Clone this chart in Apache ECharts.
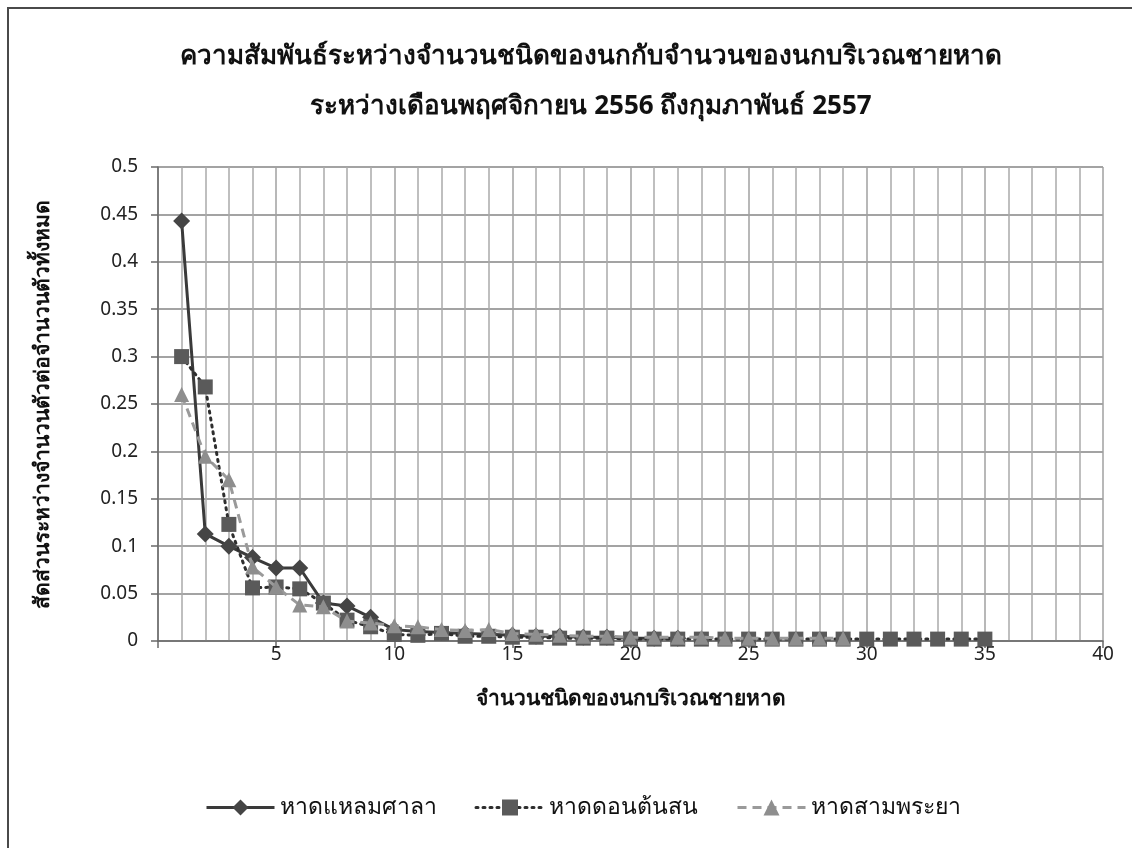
<!DOCTYPE html>
<html>
<head>
<meta charset="utf-8">
<script src="https://cdn.jsdelivr.net/npm/echarts@6/dist/echarts.min.js"></script>
<style>
  html, body { margin: 0; padding: 0; background: #fff; }
  #chart { width: 1132px; height: 848px; }
</style>
</head>
<body>
<div id="chart"></div>
<script>
// Proportion of individuals per species rank at three beaches
const titleLines = [
  'ความสัมพันธ์ระหว่างจำนวนชนิดของนกกับจำนวนของนกบริเวณชายหาด',
  'ระหว่างเดือนพฤศจิกายน 2556 ถึงกุมภาพันธ์ 2557'
];
const xAxisName = 'จำนวนชนิดของนกบริเวณชายหาด';
const yAxisName = 'สัดส่วนระหว่างจำนวนตัวต่อจำนวนตัวทั้งหมด';
const seriesNames = ['หาดแหลมศาลา', 'หาดดอนต้นสน', 'หาดสามพระยา'];

// values by species rank (1, 2, 3, ...)
const laemSala = [0.443, 0.113, 0.100, 0.088, 0.077, 0.077, 0.040, 0.037, 0.025, 0.012,
  0.010, 0.009, 0.008, 0.007, 0.006, 0.005, 0.005, 0.004, 0.004, 0.003, 0.003, 0.003];
const donTonSon = [0.300, 0.268, 0.123, 0.056, 0.057, 0.055, 0.040, 0.022, 0.015, 0.007,
  0.006, 0.008, 0.005, 0.005, 0.004, 0.004, 0.003, 0.003, 0.003, 0.002, 0.002, 0.002,
  0.002, 0.002, 0.002, 0.002, 0.002, 0.002, 0.002, 0.002, 0.002, 0.002, 0.002, 0.002, 0.002];
const samPhraya = [0.260, 0.195, 0.170, 0.078, 0.057, 0.038, 0.036, 0.021, 0.019, 0.016,
  0.015, 0.012, 0.011, 0.012, 0.008, 0.007, 0.006, 0.005, 0.005, 0.004, 0.004, 0.004,
  0.004, 0.003, 0.003, 0.003, 0.003, 0.003, 0.003];

const xTicks = { min: 0, max: 40, interval: 5 };
const yTicks = { min: 0, max: 0.5, interval: 0.05 };

const toPairs = arr => arr.map((v, i) => [i + 1, v]);

const FONT = '"Noto Sans", "DejaVu Sans", sans-serif';
const chart = echarts.init(document.getElementById('chart'), null, { renderer: 'canvas' });

chart.setOption({
  backgroundColor: '#ffffff',
  animation: false,
  graphic: [{
    // frame: top and left edges inside the canvas
    type: 'rect',
    shape: { x: 8, y: 8, width: 1140, height: 860 },
    style: { fill: 'none', stroke: '#4a4a4a', lineWidth: 2 },
    silent: true
  }],
  title: [
    { text: titleLines[0], left: 586, textAlign: 'center', top: 39,
      textStyle: { fontFamily: FONT, fontSize: 26, fontWeight: 'bold', color: '#111' } },
    { text: titleLines[1], left: 586, textAlign: 'center', top: 89,
      textStyle: { fontFamily: FONT, fontSize: 26, fontWeight: 'bold', color: '#111' } }
  ],
  grid: { left: 158, right: 29, top: 167, bottom: 207, containLabel: false },
  legend: {
    top: 791,
    left: 200,
    itemWidth: 68,
    itemHeight: 20,
    itemGap: 38,
    textStyle: { fontFamily: FONT, fontSize: 23, color: '#111' },
    lineStyle: { width: 3 },
    data: seriesNames
  },
  xAxis: {
    type: 'value',
    min: xTicks.min, max: xTicks.max, interval: xTicks.interval,
    name: xAxisName,
    nameLocation: 'middle',
    nameGap: 48,
    nameTextStyle: { fontFamily: FONT, fontSize: 21, fontWeight: 'bold', color: '#111' },
    axisLine: { lineStyle: { color: '#6a6a6a', width: 1.5 } },
    axisTick: { show: true, length: 7, lineStyle: { color: '#6a6a6a', width: 1.5 } },
    axisLabel: {
      fontFamily: FONT, fontSize: 19, color: '#222', margin: 4,
      formatter: v => (v === 0 ? '' : String(v))
    },
    splitLine: { show: true, lineStyle: { color: '#a0a0a0', width: 1.5 } },
    minorTick: { show: false, splitNumber: 5 },
    minorSplitLine: { show: true, lineStyle: { color: '#aaaaaa', width: 1.5 } }
  },
  yAxis: {
    type: 'value',
    min: yTicks.min, max: yTicks.max, interval: yTicks.interval,
    name: yAxisName,
    nameLocation: 'middle',
    nameGap: 104,
    nameRotate: 90,
    nameTextStyle: { fontFamily: FONT, fontSize: 21, fontWeight: 'bold', color: '#111' },
    axisLine: { show: true, lineStyle: { color: '#6a6a6a', width: 1.5 } },
    axisTick: { show: true, length: 7, lineStyle: { color: '#6a6a6a', width: 1.5 } },
    axisLabel: {
      fontFamily: FONT, fontSize: 19, color: '#222', margin: 20,
      formatter: v => String(parseFloat(v.toFixed(2)))
    },
    splitLine: { show: true, lineStyle: { color: '#858585', width: 1.5 } }
  },
  series: [
    {
      name: seriesNames[0], type: 'line', data: toPairs(laemSala),
      symbol: 'diamond', symbolSize: 17,
      lineStyle: { color: '#3a3a3a', width: 3, type: 'solid' },
      itemStyle: { color: '#454545' },
      z: 2
    },
    {
      name: seriesNames[1], type: 'line', data: toPairs(donTonSon),
      symbol: 'rect', symbolSize: 15,
      lineStyle: { color: '#2e2e2e', width: 3, type: [2, 5], cap: 'round' },
      itemStyle: { color: '#5a5a5a' },
      z: 3
    },
    {
      name: seriesNames[2], type: 'line', data: toPairs(samPhraya),
      symbol: 'triangle', symbolSize: 15,
      lineStyle: { color: '#9a9a9a', width: 3, type: [9, 6] },
      itemStyle: { color: '#8e8e8e' },
      z: 4
    }
  ]
});
</script>
</body>
</html>
